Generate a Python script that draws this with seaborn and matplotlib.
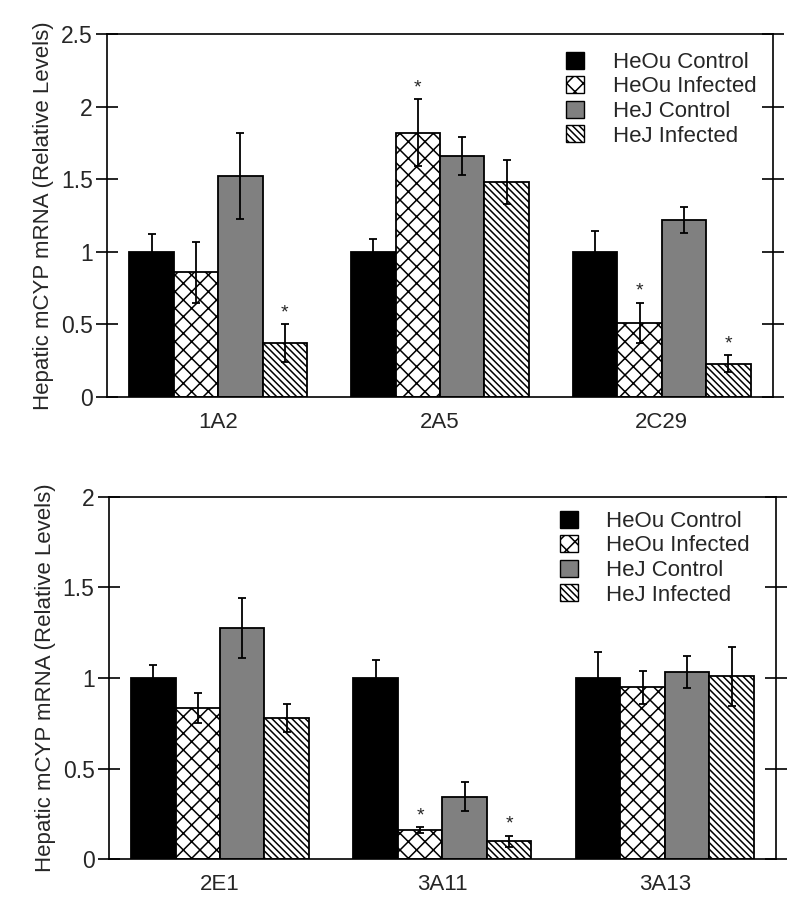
import matplotlib
matplotlib.use("Agg")
import matplotlib.pyplot as plt
from matplotlib.patches import Patch
import numpy as np
import pandas as pd
import seaborn as sns

groups = ["HeOu Control", "HeOu Infected", "HeJ Control", "HeJ Infected"]

# top panel
cyp_top = ["1A2", "2A5", "2C29"]
mean_top = {
    "HeOu Control": [1.0, 1.0, 1.0],
    "HeOu Infected": [0.86, 1.82, 0.51],
    "HeJ Control": [1.52, 1.66, 1.22],
    "HeJ Infected": [0.37, 1.48, 0.23],
}
err_top = {
    "HeOu Control": [0.12, 0.087, 0.14],
    "HeOu Infected": [0.21, 0.23, 0.14],
    "HeJ Control": [0.295, 0.13, 0.09],
    "HeJ Infected": [0.13, 0.15, 0.06],
}
star_top = {
    "HeOu Control": [0, 0, 0],
    "HeOu Infected": [0, 1, 1],
    "HeJ Control": [0, 0, 0],
    "HeJ Infected": [1, 0, 1],
}

# bottom panel
cyp_bot = ["2E1", "3A11", "3A13"]
mean_bot = {
    "HeOu Control": [1.0, 1.0, 1.0],
    "HeOu Infected": [0.834, 0.16, 0.948],
    "HeJ Control": [1.274, 0.346, 1.032],
    "HeJ Infected": [0.777, 0.10, 1.01],
}
err_bot = {
    "HeOu Control": [0.07, 0.10, 0.144],
    "HeOu Infected": [0.083, 0.015, 0.092],
    "HeJ Control": [0.165, 0.078, 0.088],
    "HeJ Infected": [0.077, 0.03, 0.163],
}
star_bot = {
    "HeOu Control": [0, 0, 0],
    "HeOu Infected": [0, 1, 0],
    "HeJ Control": [0, 0, 0],
    "HeJ Infected": [0, 1, 0],
}

colors = ["black", "white", "#808080", "white"]
hatches = ["", "xx", "", "\\\\\\\\\\"]

sns.set_style("white")
plt.rcParams["font.family"] = ["Liberation Sans", "DejaVu Sans"]
plt.rcParams["hatch.linewidth"] = 1.1
plt.rcParams["hatch.color"] = "black"


def draw_panel(ax, cyps, means, errs, stars, ymax, ystep, leg_anchor):
    rows = []
    for g in groups:
        for c, v in zip(cyps, means[g]):
            rows.append({"cyp": c, "group": g, "val": v})
    df = pd.DataFrame(rows)
    sns.barplot(data=df, x="cyp", y="val", hue="group", hue_order=groups,
                order=cyps, palette=colors, edgecolor="black", linewidth=1.3,
                errorbar=None, width=0.8, saturation=1, legend=False, ax=ax)

    for i, g in enumerate(groups):
        cont = ax.containers[i]
        xs = []
        for bar in cont.patches:
            bar.set_hatch(hatches[i])
            xs.append(bar.get_x() + bar.get_width() / 2)
        ax.errorbar(xs, means[g], yerr=errs[g], fmt="none", ecolor="black",
                    elinewidth=1.3, capsize=3, capthick=1.3, zorder=5)
        for x, m, e, s in zip(xs, means[g], errs[g], stars[g]):
            if s:
                ax.annotate("*", (x, m + e), xytext=(0, 2), textcoords="offset points",
                            ha="center", va="bottom", fontsize=14)

    ax.set_xlim(-0.5, 2.5)
    ax.set_ylim(0, ymax)
    ticks = np.arange(0, ymax + 0.001, ystep)
    ax.set_yticks(ticks)
    ax.set_yticklabels([f"{t:g}" for t in ticks])
    ax.set_xlabel("")
    ax.set_ylabel("Hepatic mCYP mRNA (Relative Levels)", fontsize=16, labelpad=5)
    for sp in ax.spines.values():
        sp.set_visible(True)
        sp.set_color("black")
        sp.set_linewidth(1.2)
    ax.tick_params(axis="y", which="major", direction="inout", length=16.5, width=1.2,
                   left=True, right=True, labelright=False, labelsize=16.5, pad=2,
                   color="black")
    ax.tick_params(axis="x", length=0, labelsize=16, pad=11)

    handles = [Patch(facecolor=colors[i], edgecolor="black", hatch=hatches[i],
                     linewidth=1.0) for i in range(4)]
    ax.legend(handles, groups, loc="upper left", bbox_to_anchor=leg_anchor,
              frameon=False, fontsize=16, handlelength=0.8, handleheight=0.8,
              handletextpad=1.3, labelspacing=0.15, borderpad=0, borderaxespad=0)


fig = plt.figure(figsize=(8, 9.15), dpi=100)
ax1 = fig.add_axes([0.134, 0.566, 0.832, 0.397])
ax2 = fig.add_axes([0.136, 0.061, 0.834, 0.396])

draw_panel(ax1, cyp_top, mean_top, err_top, star_top, 2.5, 0.5, (0.69, 0.951))
draw_panel(ax2, cyp_bot, mean_bot, err_bot, star_bot, 2.0, 0.5, (0.676, 0.962))

fig.savefig("out.png", dpi=100)
